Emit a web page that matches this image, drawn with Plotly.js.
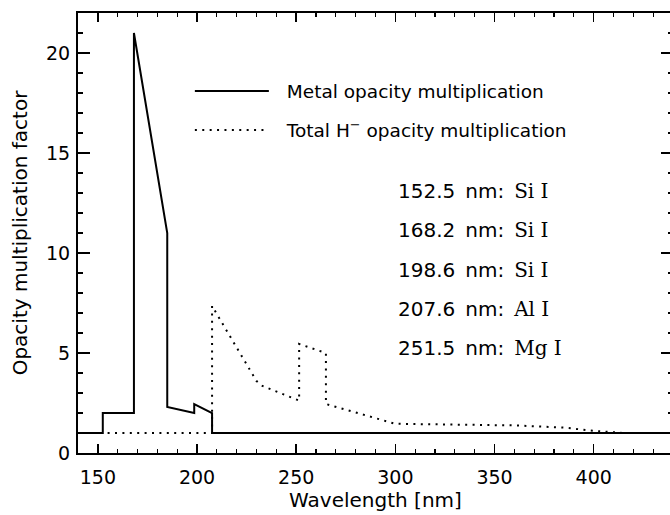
<!DOCTYPE html>
<html>
<head>
<meta charset="utf-8">
<script src="https://cdn.plot.ly/plotly-3.0.1.min.js"></script>
<style>
  html, body { margin: 0; padding: 0; overflow: hidden; background: #fff; }
  #chart { width: 673px; height: 515px; }
</style>
</head>
<body>
<div id="chart"></div>
<script>
// Absorption edges of the metals and their ions
const edgeWavelengths = ['152.5', '168.2', '198.6', '207.6', '251.5'];
const edgeSpecies = ['Si I', 'Si I', 'Si I', 'Al I', 'Mg I'];

// Metal opacity multiplication factor (solid)
const metalWl = [140, 152.5, 152.5, 168.2, 168.2, 185, 185, 198.6, 198.6, 207.6, 207.6, 440];
const metalFactor = [1, 1, 2, 2, 21, 11, 2.3, 2.0, 2.45, 2.0, 1, 1];

// Total H- opacity multiplication factor (dotted)
const totalWl = [140, 207.6, 207.6, 230, 233, 251.5, 251.5, 265, 265, 300, 360, 385, 400, 415, 440];
const totalFactor = [1, 1, 7.35, 3.6, 3.35, 2.62, 5.45, 5.0, 2.45, 1.46, 1.38, 1.27, 1.11, 1.0, 1.0];

const wlRange = [140, 440];
const factorRange = [0, 22];

const ink = '#000';
const sans = 'DejaVu Sans';
// extra room between the legend key and its label
const keyGap = '\u2002\u2009';

const traces = [
  {
    x: totalWl, y: totalFactor, type: 'scatter', mode: 'lines',
    name: keyGap + 'Total H<sup>\u2212</sup> opacity multiplication',
    legendgroup: 'total', legendrank: 2,
    line: { color: ink, width: 2, dash: '2px,5.4px' },
    hoverinfo: 'x+y'
  },
  {
    x: metalWl, y: metalFactor, type: 'scatter', mode: 'lines',
    name: keyGap + 'Metal opacity multiplication',
    legendgroup: 'metal', legendrank: 1,
    line: { color: ink, width: 2 },
    hoverinfo: 'x+y'
  },
  // empty trace that attaches the overlay tick axes
  {
    x: [], y: [], type: 'scatter', mode: 'lines',
    xaxis: 'x2', yaxis: 'y2', showlegend: false, hoverinfo: 'skip'
  }
];

// Edge labels stacked below the legend
const labelTop = 0.5955, labelStep = 0.0893;
const annotations = edgeWavelengths.map((wl, i) => ({
  xref: 'paper', yref: 'paper',
  x: 0.5345, y: labelTop - i * labelStep,
  xanchor: 'left', yanchor: 'middle',
  showarrow: false,
  text: wl + '\u2002nm:\u2002<span style="font-family:DejaVu Serif">' + edgeSpecies[i] + '</span>',
  font: { family: sans, size: 20, color: ink }
}));

// Main axes carry the frame, labels and titles; their outward ticks are
// invisible and only set the label distance.
const labelAxis = {
  showline: true, linewidth: 2, linecolor: ink, mirror: true,
  ticks: 'outside', tickcolor: 'rgba(0,0,0,0)',
  showgrid: false, zeroline: false,
  tickfont: { family: sans, size: 19, color: ink }
};
// Overlay axes draw the inward major and minor ticks on all four sides.
const tickAxis = {
  showline: false, showticklabels: false, showgrid: false, zeroline: false,
  ticks: 'inside', mirror: 'ticks', tickcolor: ink, tickwidth: 1.5
};

const layout = {
  width: 673, height: 515,
  margin: { l: 78, r: 0, t: 13, b: 62 },
  paper_bgcolor: '#fff', plot_bgcolor: '#fff',
  showlegend: true,
  legend: {
    x: 0.188, xanchor: 'left', y: 0.865, yanchor: 'top',
    bgcolor: 'rgba(0,0,0,0)', borderwidth: 0,
    font: { family: sans, size: 18.5, color: ink },
    itemwidth: 74, tracegroupgap: 12, traceorder: 'grouped'
  },
  xaxis: Object.assign({}, labelAxis, {
    range: wlRange, tick0: 0, dtick: 50, ticklen: 6,
    title: { text: 'Wavelength [nm]', standoff: 4, font: { family: sans, size: 20, color: ink } }
  }),
  yaxis: Object.assign({}, labelAxis, {
    range: factorRange, tick0: 0, dtick: 5, ticklen: 2,
    title: { text: 'Opacity multiplication factor', font: { family: sans, size: 20, color: ink } }
  }),
  xaxis2: Object.assign({}, tickAxis, {
    overlaying: 'x', anchor: 'y', side: 'bottom',
    range: wlRange, tick0: 0, dtick: 50, ticklen: 9,
    minor: { ticks: 'inside', dtick: 10, ticklen: 4, tickwidth: 1.2, tickcolor: ink }
  }),
  yaxis2: Object.assign({}, tickAxis, {
    overlaying: 'y', anchor: 'x', side: 'left',
    range: factorRange, tick0: 0, dtick: 5, ticklen: 12,
    minor: { ticks: 'inside', dtick: 1, ticklen: 5, tickwidth: 1.2, tickcolor: ink }
  }),
  annotations: annotations
};

Plotly.newPlot('chart', traces, layout, { displayModeBar: false, staticPlot: true });
</script>
</body>
</html>
